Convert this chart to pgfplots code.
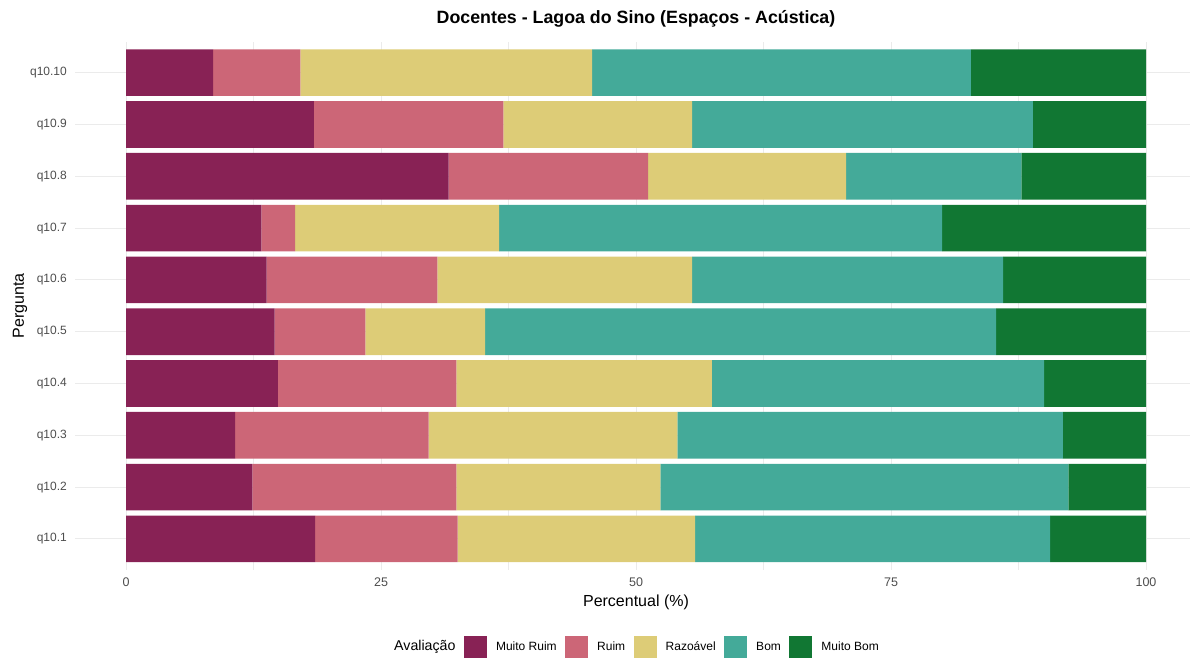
\documentclass[border=0pt]{standalone}
\usepackage{pgfplots}
\pgfplotsset{compat=1.18}
\usepackage{fontspec}
\setmainfont{Liberation Sans}
\definecolor{cMR}{HTML}{882255}
\definecolor{cR}{HTML}{CC6677}
\definecolor{cRaz}{HTML}{DDCC77}
\definecolor{cB}{HTML}{44AA99}
\definecolor{cMB}{HTML}{117733}
\definecolor{tickgray}{HTML}{4D4D4D}
\definecolor{gridgray}{HTML}{EBEBEB}
\begin{document}
\begin{tikzpicture}
\path[use as bounding box] (-75bp,-88bp) rectangle (1115bp,570bp);
\begin{axis}[
  at={(0,0)}, anchor=south west,
  scale only axis, width=1122bp, height=528.4bp,
  xmin=-5, xmax=105, ymin=0.4, ymax=10.6,
  xbar stacked, bar width=0.9,
  axis line style={draw=none},
  major tick length=0, minor tick length=0,
  xtick={0,25,50,75,100}, minor xtick={12.5,37.5,62.5,87.5},
  ytick={1,2,3,4,5,6,7,8,9,10},
  yticklabels={q10.1,q10.2,q10.3,q10.4,q10.5,q10.6,q10.7,q10.8,q10.9,q10.10},
  xmajorgrids, xminorgrids, ymajorgrids,
  major grid style={gridgray, line width=1bp},
  minor grid style={gridgray, line width=0.6bp},
  /pgf/number format/assume math mode=true,
  xticklabel style={font=\fontsize{12.5bp}{14bp}\selectfont, text=tickgray, inner sep=0pt, anchor=north, yshift=-8bp},
  yticklabel style={font=\fontsize{12bp}{14bp}\selectfont, text=tickgray, inner sep=0pt, anchor=east, xshift=-8bp},
  xlabel={Percentual (\%)},
  xlabel style={font=\fontsize{16bp}{18bp}\selectfont, at={(axis description cs:0.5,0)}, anchor=center, yshift=-32bp},
  ylabel={Pergunta},
  ylabel style={font=\fontsize{16bp}{18bp}\selectfont, at={(axis description cs:0,0.5)}, anchor=center, yshift=55bp},
  title={Docentes - Lagoa do Sino (Espaços - Acústica)},
  title style={font=\bfseries\fontsize{17.8bp}{20bp}\selectfont, at={(axis description cs:0.5,1)}, anchor=center, yshift=16.6bp},
  legend columns=-1,
  legend image code/.code={\fill[#1, draw=none] (0bp,-11.5bp) rectangle (23bp,11.5bp);},
  legend style={at={(axis description cs:0.5,0)}, anchor=center, yshift=-77.5bp, xshift=-4bp, draw=none, fill=none,
    font=\fontsize{12bp}{14bp}\selectfont,
    nodes={inner sep=0pt, text height=8.6bp, text depth=2.6bp},
    /tikz/every odd column/.append style={column sep=9bp},
    /tikz/every even column/.append style={column sep=8.5bp}},
]
\addlegendimage{empty legend}
\addlegendentry{\fontsize{14.2bp}{16bp}\selectfont Avaliação\hspace{4bp}}
\addplot[fill=cMR, draw=none] coordinates {
(18.53,1) (12.38,2) (10.70,3) (14.90,4) (14.57,5) (13.79,6) (13.26,7) (31.63,8) (18.43,9) (8.53,10)};
\addlegendentry{Muito Ruim}
\addplot[fill=cR, draw=none] coordinates {
(13.97,1) (20.02,2) (18.97,3) (17.50,4) (8.89,5) (16.73,6) (3.31,7) (19.55,8) (18.56,9) (8.56,10)};
\addlegendentry{Ruim}
\addplot[fill=cRaz, draw=none] coordinates {
(23.30,1) (19.98,2) (24.38,3) (25.05,4) (11.74,5) (24.98,6) (20.00,7) (19.42,8) (18.51,9) (28.61,10)};
\addlegendentry{Razoável}
\addplot[fill=cB, draw=none] coordinates {
(34.80,1) (40.02,2) (37.81,3) (32.55,4) (50.10,5) (30.50,6) (43.43,7) (17.17,8) (33.40,9) (37.14,10)};
\addlegendentry{Bom}
\addplot[fill=cMB, draw=none] coordinates {
(9.40,1) (7.60,2) (8.14,3) (10.00,4) (14.70,5) (14.00,6) (20.00,7) (12.23,8) (11.10,9) (17.16,10)};
\addlegendentry{Muito Bom}
\end{axis}
\end{tikzpicture}
\end{document}
